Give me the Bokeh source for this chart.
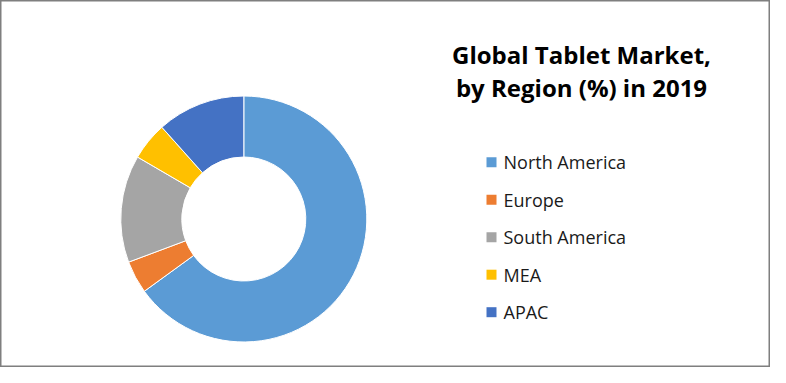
import math
from bokeh.plotting import figure
from bokeh.models import Range1d, ColumnDataSource
from bokeh.core.properties import value
from bokeh.embed import file_html
from bokeh.resources import INLINE

regions = ["North America", "Europe", "South America", "MEA", "APAC"]
shares = [65.0, 4.3, 14.1, 5.0, 11.6]
colors = ["#5B9BD5", "#ED7D31", "#A5A5A5", "#FFC000", "#4472C4"]
title_lines = ["Global Tablet Market,", "by Region (%) in 2019"]

W, H = 770, 367
p = figure(width=W, height=H, output_backend="svg", toolbar_location=None,
           x_range=Range1d(0, W), y_range=Range1d(0, H), min_border=0)
p.axis.visible = False
p.grid.visible = False
p.outline_line_color = "#7f7f7f"
p.outline_line_width = 2
p.background_fill_color = "white"
p.border_fill_color = "white"

def Y(ref_y):
    return H - ref_y

def X(ref_x):
    return ref_x

total = sum(shares)
starts, ends = [], []
cum = 0.0
for v in shares:
    starts.append(math.pi / 2 - 2 * math.pi * cum / total)
    cum += v
    ends.append(math.pi / 2 - 2 * math.pi * cum / total)

src = ColumnDataSource(dict(start=starts, end=ends, color=colors, region=regions))
p.annular_wedge(x=X(243.3), y=Y(218.5), inner_radius=62, outer_radius=123,
                start_angle="start", end_angle="end", direction="clock",
                fill_color="color", line_color="white", line_width=1, source=src)

# title
p.text(x=[X(581)] * 2, y=[Y(54), Y(87)], text=title_lines,
       text_font=value("Open Sans"), text_font_style="bold", text_font_size="24px",
       text_align="center", text_baseline="alphabetic", text_color="black")

# legend
ly = [Y(161.7 + 37.5 * i) for i in range(len(regions))]
p.scatter(x=[X(491)] * len(regions), y=ly, marker="square", size=10,
          fill_color=colors, line_color=None)
p.text(x=[X(503)] * len(regions), y=ly, text=regions,
       text_font=value("Open Sans"), text_font_size="18px",
       text_align="left", text_baseline="middle", text_color="#1a1a1a")

open("out.html", "w").write(file_html(p, INLINE))
